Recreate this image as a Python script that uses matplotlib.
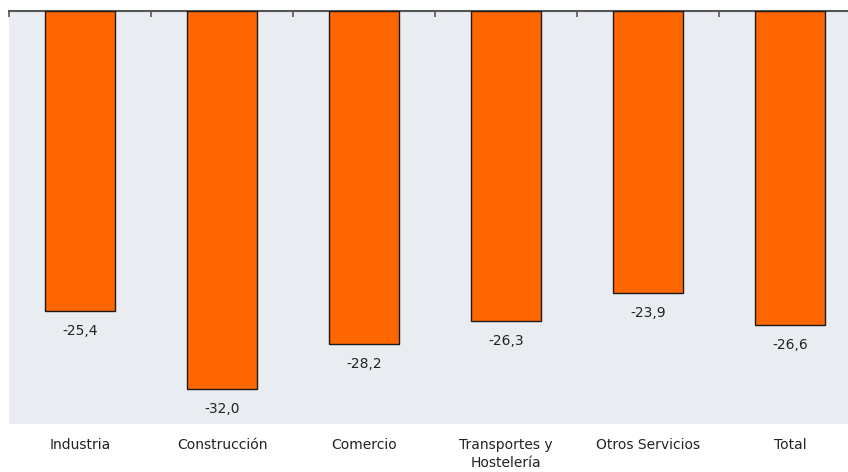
import matplotlib
matplotlib.use("Agg")
import matplotlib.pyplot as plt
from matplotlib.transforms import ScaledTranslation

categories = ["Industria", "Construcción", "Comercio", "Transportes y\nHostelería", "Otros Servicios", "Total"]
values = [-25.4, -32.0, -28.2, -26.3, -23.9, -26.6]
labels = ["-25,4", "-32,0", "-28,2", "-26,3", "-23,9", "-26,6"]

W, H = 848, 472
fig = plt.figure(figsize=(W/100, H/100), dpi=100)
left, right, top, bottom = 9, 861, 11, 424
ax = fig.add_axes([left/W, 1 - bottom/H, (right-left)/W, (bottom-top)/H])
ax.set_facecolor("#E9ECF0")
x = range(len(categories))
ax.bar(x, values, width=0.49, color="#FF6600", edgecolor="#1a1a1a", linewidth=1.0, zorder=3)
ax.set_xlim(-0.5, 5.5)
ax.set_ylim(-35, 0)
for i, (v, lab) in enumerate(zip(values, labels)):
    ax.annotate(lab, (i, v), xytext=(0, -20), textcoords="offset pixels",
                ha="center", va="center", fontsize=10, color="#222222")
for s in ["left", "right", "bottom"]:
    ax.spines[s].set_visible(False)
ax.spines["top"].set_color("#555555")
ax.spines["top"].set_linewidth(1.5)
ax.set_yticks([])
ax.set_xticks([i - 0.5 for i in range(7)])
ax.set_xticklabels([])
ax.tick_params(axis="x", which="major", bottom=False, top=True, direction="in", length=4, color="#555555", width=1.2)
off = ScaledTranslation(0, -14/100, fig.dpi_scale_trans)
for i, c in enumerate(categories):
    ax.text(i, -35, c, transform=ax.transData + off, ha="center", va="top", fontsize=10, color="#222222",
            linespacing=1.35)
fig.savefig("out.png", dpi=100)
